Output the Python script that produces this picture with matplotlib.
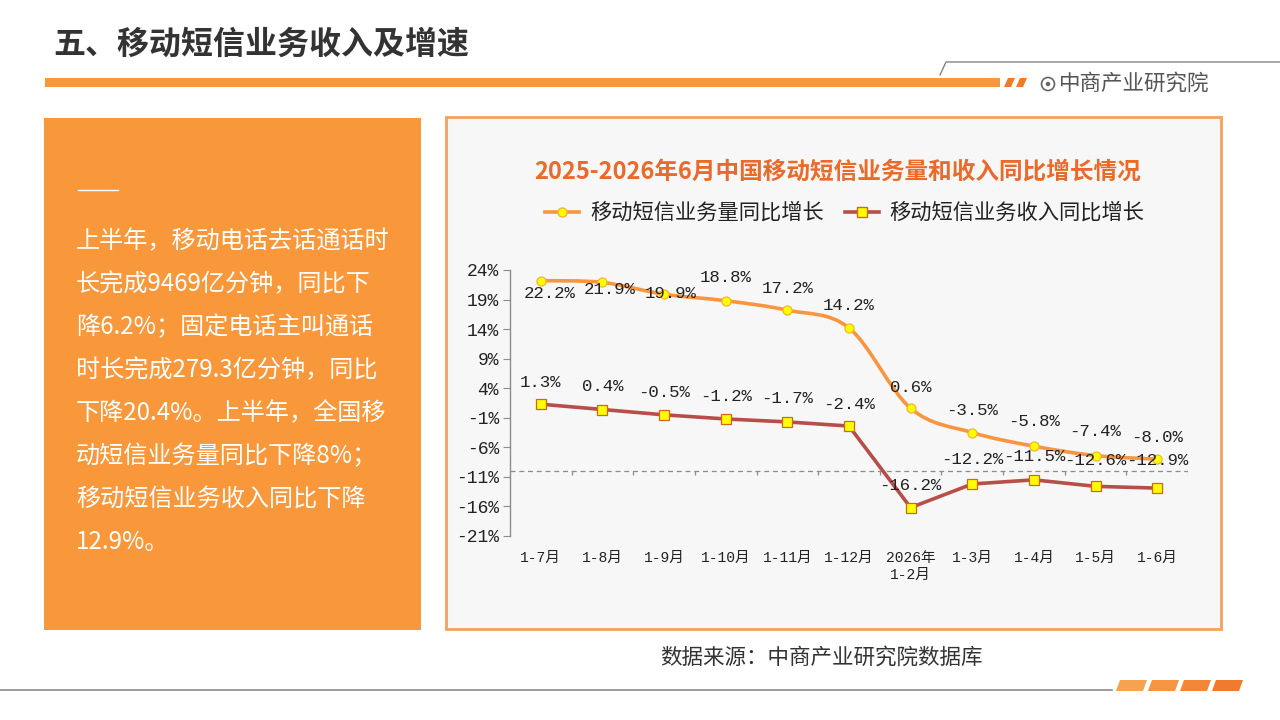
import numpy as np
import matplotlib
matplotlib.use("Agg")
import matplotlib.pyplot as plt
from matplotlib.path import Path
from matplotlib.patches import PathPatch, Rectangle, Polygon, Ellipse
from matplotlib.lines import Line2D

plt.rcParams['font.family'] = ['Noto Sans CJK SC', 'DejaVu Sans']
plt.rcParams['axes.unicode_minus'] = False

# ---------------- data ----------------
categories = ["1-7月", "1-8月", "1-9月", "1-10月", "1-11月", "1-12月",
              "2026年\n1-2月", "1-3月", "1-4月", "1-5月", "1-6月"]
volume_growth = [22.2, 21.9, 19.9, 18.8, 17.2, 14.2, 0.6, -3.5, -5.8, -7.4, -8.0]
revenue_growth = [1.3, 0.4, -0.5, -1.2, -1.7, -2.4, -16.2, -12.2, -11.5, -12.6, -12.9]
y_ticks = [-21, -16, -11, -6, -1, 4, 9, 14, 19, 24]
series_names = ["移动短信业务量同比增长", "移动短信业务收入同比增长"]

page_title = "五、移动短信业务收入及增速"
chart_title = "2025-2026年6月中国移动短信业务量和收入同比增长情况"
brand = "中商产业研究院"
source_text = "数据来源：中商产业研究院数据库"
body_lines = ["上半年，移动电话去话通话时",
              "长完成9469亿分钟，同比下",
              "降6.2%；固定电话主叫通话",
              "时长完成279.3亿分钟，同比",
              "下降20.4%。上半年，全国移",
              "动短信业务量同比下降8%；",
              "移动短信业务收入同比下降",
              "12.9%。"]

# ---------------- styles ----------------
ORANGE = "#F9973B"
VOL_COLOR = "#F7963F"
REV_COLOR = "#B84E4A"
TITLE_COLOR = "#EA6A2A"
NUM_FONT = ['Liberation Mono', 'Noto Sans CJK SC']

W, H = 1280, 720
fig = plt.figure(figsize=(12.8, 7.2), dpi=100)
fig.patch.set_facecolor("white")


def fx(x):
    return x / W


def fy(y):
    return 1 - y / H


# ---------------- page decoration ----------------
fig.text(fx(53), fy(45), page_title, fontsize=23, fontweight='bold',
         color="#333333", ha='left', va='center')
# top orange bar
fig.patches.append(Rectangle((fx(45), fy(87)), fx(1000) - fx(45), fy(78) - fy(87),
                             transform=fig.transFigure, facecolor=ORANGE, edgecolor='none'))
for x0 in (1004, 1016):
    fig.patches.append(Polygon([(fx(x0), fy(87)), (fx(x0 + 7), fy(87)),
                                (fx(x0 + 11), fy(78)), (fx(x0 + 4), fy(78))],
                               closed=True, transform=fig.transFigure,
                               facecolor="#F07A2A", edgecolor='none'))
# thin grey line with slant
fig.lines.append(Line2D([fx(940), fx(946), fx(1280)], [fy(75), fy(62), fy(62)],
                        transform=fig.transFigure, color="#777777", lw=0.9))
# logo circle
fig.patches.append(Ellipse((fx(1048), fy(84)), 13 / W, 13 / H, transform=fig.transFigure,
                           facecolor='none', edgecolor="#666666", lw=1.2))
fig.patches.append(Ellipse((fx(1048), fy(84)), 4.5 / W, 4.5 / H, transform=fig.transFigure,
                           facecolor="#666666", edgecolor='none'))
fig.text(fx(1059), fy(84), brand, fontsize=15.5, color="#555555", ha='left', va='center')

# left orange box
fig.patches.append(Rectangle((fx(44), fy(630)), fx(421) - fx(44), fy(118) - fy(630),
                             transform=fig.transFigure, facecolor=ORANGE, edgecolor='none'))
fig.lines.append(Line2D([fx(78), fx(118)], [fy(190), fy(190)],
                        transform=fig.transFigure, color="white", lw=1.0))
for i, line in enumerate(body_lines):
    fig.text(fx(76), fy(241 + 43 * i), line, fontsize=17.4, color="white",
             ha='left', va='center')

# chart panel
fig.patches.append(Rectangle((fx(446), fy(629)), fx(1221) - fx(446), fy(117) - fy(629),
                             transform=fig.transFigure, facecolor="#F7F7F7",
                             edgecolor="#F4A15A", lw=2.0))
fig.text(fx(838), fy(172), chart_title, fontsize=17, fontweight='bold',
         color=TITLE_COLOR, ha='center', va='center')

# bottom line and stripes
fig.lines.append(Line2D([0, fx(1112)], [fy(690), fy(690)],
                        transform=fig.transFigure, color="#8A8A8A", lw=1.2))
stripe_cols = ["#F7A250", "#F59443", "#F28738", "#F07B2E"]
for k, x0 in enumerate((1116, 1148, 1180, 1212)):
    fig.patches.append(Polygon([(fx(x0), fy(691)), (fx(x0 + 27), fy(691)),
                                (fx(x0 + 31), fy(680)), (fx(x0 + 4), fy(680))],
                               closed=True, transform=fig.transFigure,
                               facecolor=stripe_cols[k], edgecolor='none'))
fig.text(fx(821), fy(658), source_text, fontsize=15.5, color="#333333",
         ha='center', va='center')

# ---------------- chart axes ----------------
ax_left, ax_right, ax_top, ax_bot = 510, 1188, 270, 536
ax = fig.add_axes([fx(ax_left), fy(ax_bot), fx(ax_right) - fx(ax_left), fy(ax_top) - fy(ax_bot)])
ax.set_zorder(10)
ax.set_facecolor('none')
xs = np.arange(len(categories))
ax.set_xlim(-0.5, len(categories) - 0.5)
ax.set_ylim(-21, 24)

for s in ('top', 'right', 'bottom'):
    ax.spines[s].set_visible(False)
ax.spines['left'].set_color("#8C8C8C")
ax.spines['left'].set_linewidth(1.0)
ax.set_yticks(y_ticks)
ax.set_yticklabels([f"{v}%" for v in y_ticks], fontfamily=NUM_FONT, fontsize=13, color="#222222")
ax.tick_params(axis='y', direction='out', length=5, color="#8C8C8C", pad=3)
ax.set_xticks(xs)
ax.set_xticklabels(categories, fontfamily=NUM_FONT, fontsize=10.5, color="#222222",
                   linespacing=1.2)
ax.tick_params(axis='x', length=0, pad=11)

# category axis drawn as dashed line
ax.axhline(-10, color="#8C8C8C", lw=0.9, ls=(0, (4, 3)), zorder=1)
ax.vlines(np.arange(0.5, len(categories), 1.0), -10.7, -10, color="#8C8C8C", lw=0.9, zorder=1)


def smooth_path(x, y):
    x = np.asarray(x, float)
    y = np.asarray(y, float)
    verts = [(x[0], y[0])]
    codes = [Path.MOVETO]
    n = len(x)
    for i in range(n - 1):
        p0 = np.array([x[max(i - 1, 0)], y[max(i - 1, 0)]])
        p1 = np.array([x[i], y[i]])
        p2 = np.array([x[i + 1], y[i + 1]])
        p3 = np.array([x[min(i + 2, n - 1)], y[min(i + 2, n - 1)]])
        c1 = p1 + (p2 - p0) / 6.0
        c2 = p2 - (p3 - p1) / 6.0
        verts += [tuple(c1), tuple(c2), tuple(p2)]
        codes += [Path.CURVE4] * 3
    return Path(verts, codes)


ax.add_patch(PathPatch(smooth_path(xs, volume_growth), facecolor='none',
                       edgecolor=VOL_COLOR, lw=2.6, zorder=3, capstyle='round'))
ax.plot(xs, volume_growth, ls='none', marker='o', ms=6.5, mfc="#FFFF00",
        mec="#F5B52A", mew=0.9, zorder=4)
ax.plot(xs, revenue_growth, color=REV_COLOR, lw=2.6, zorder=3)
ax.plot(xs, revenue_growth, ls='none', marker='s', ms=6.5, mfc="#FFFF00",
        mec="#D9621E", mew=0.9, zorder=4)

# data labels (offsets in pixels)
vol_offsets = [(9, -13), (7, -7), (7, 1), (0, 23), (0, 22), (0, 22), (0, 21),
               (0, 22), (0, 25), (0, 24), (0, 22)]
rev_offsets = [(0, 22), (0, 23), (0, 22), (0, 22), (0, 23), (0, 22), (0, 22),
               (0, 24), (0, 23), (0, 26), (0, 28)]
for series, offs in ((volume_growth, vol_offsets), (revenue_growth, rev_offsets)):
    for x, v, (dx, dy) in zip(xs, series, offs):
        ax.annotate(f"{v:.1f}%", (x, v), xytext=(dx * 0.72, dy * 0.72),
                    textcoords='offset points', ha='center', va='center',
                    fontsize=12.5, fontfamily=NUM_FONT, color="#222222", zorder=5)

# legend
handles = [Line2D([], [], color=VOL_COLOR, lw=2.6, marker='o', ms=6.5,
                  mfc="#FFFF00", mec="#F5B52A"),
           Line2D([], [], color=REV_COLOR, lw=2.6, marker='s', ms=6.5,
                  mfc="#FFFF00", mec="#D9621E")]
fig.legend(handles, series_names, loc='center', bbox_to_anchor=(fx(845), fy(213)),
           ncol=2, frameon=False, fontsize=15.3, handlelength=1.6, handletextpad=0.5,
           columnspacing=1.0, labelcolor="#222222")

fig.savefig("out.png", dpi=100, facecolor=fig.get_facecolor())
